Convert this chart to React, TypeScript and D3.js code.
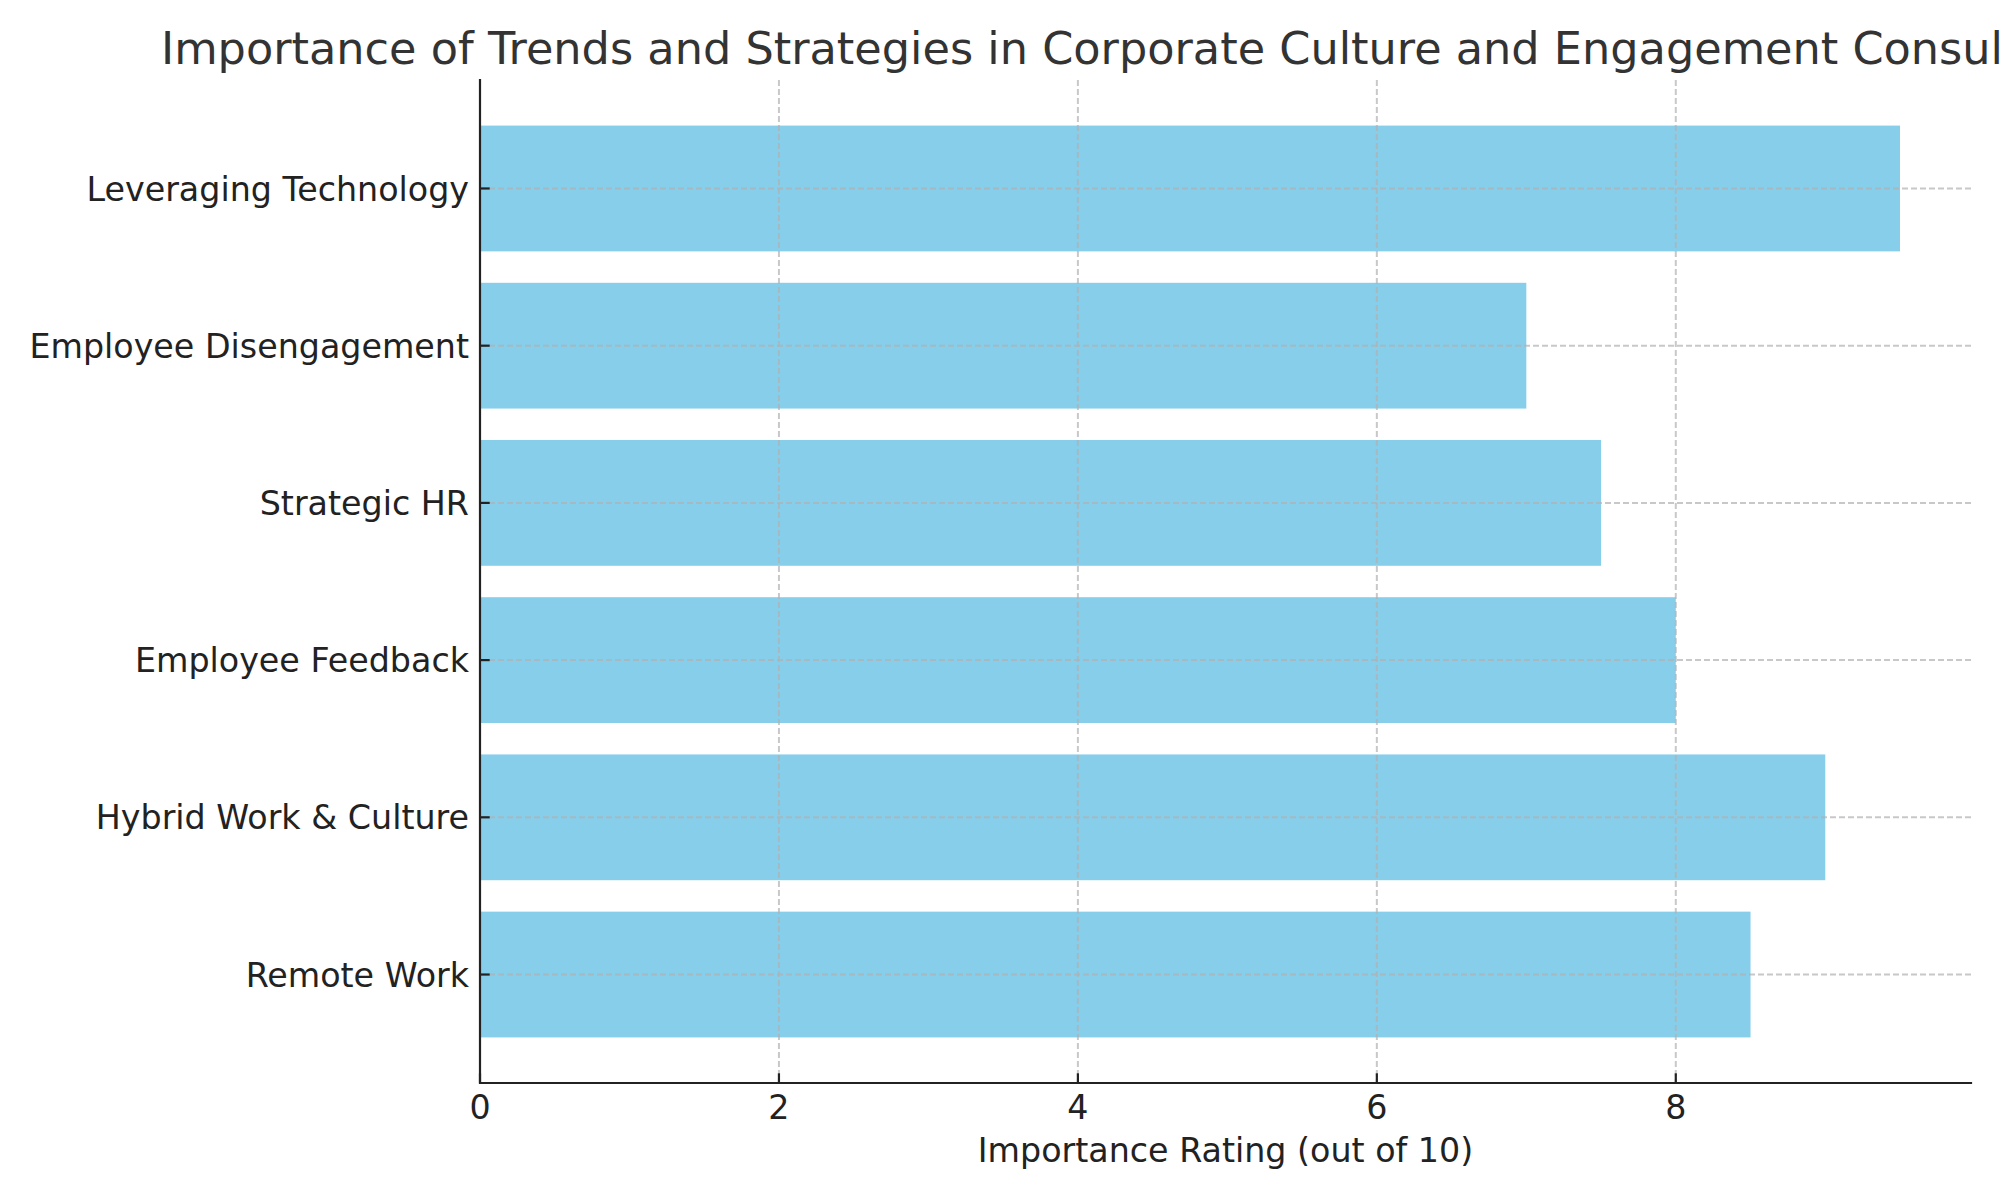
import React, { useRef, useEffect } from "react";
import * as d3 from "d3";

// data, bottom to top as plotted
const categories = [
  "Remote Work",
  "Hybrid Work & Culture",
  "Employee Feedback",
  "Strategic HR",
  "Employee Disengagement",
  "Leveraging Technology",
];
const ratings = [8.5, 9, 8, 7.5, 7, 9.5];
const xTicks = [0, 2, 4, 6, 8];

const title =
  "Importance of Trends and Strategies in Corporate Culture and Engagement Consulting";
const xLabel = "Importance Rating (out of 10)";

const W = 2000;
const H = 1200;
const FONT = "'DejaVu Sans', sans-serif";

const App: React.FC = () => {
  const svgRef = useRef<SVGSVGElement>(null);

  useEffect(() => {
    if (!svgRef.current) return;
    const svg = d3.select(svgRef.current);
    svg.selectAll("*").remove();

    // axes box in pixels
    const left = 480;
    const right = 1971;
    const top = 80;
    const bottom = 1083;

    const xMax = d3.max(ratings)! * 1.05;
    const x = d3.scaleLinear().domain([0, xMax]).range([left, right]);

    // top row is the last category
    const y = d3
      .scaleBand<string>()
      .domain(categories.slice().reverse())
      .range([top, bottom])
      .paddingInner(0.2)
      .paddingOuter(0.29);

    const yMid = (d: string) => y(d)! + y.bandwidth() / 2;

    svg.append("rect").attr("width", W).attr("height", H).attr("fill", "white");

    // bars
    svg
      .append("g")
      .selectAll("rect")
      .data(categories)
      .join("rect")
      .attr("x", x(0))
      .attr("y", (d) => y(d)!)
      .attr("width", (_, i) => x(ratings[i]) - x(0))
      .attr("height", y.bandwidth())
      .attr("fill", "#87CEEB");

    // grid (drawn over bars)
    const grid = svg
      .append("g")
      .attr("stroke", "#b0b0b0")
      .attr("stroke-opacity", 0.7)
      .attr("stroke-width", 2)
      .attr("stroke-dasharray", "6,3");

    grid
      .selectAll("line.vx")
      .data(xTicks)
      .join("line")
      .attr("class", "vx")
      .attr("x1", (d) => x(d))
      .attr("x2", (d) => x(d))
      .attr("y1", top)
      .attr("y2", bottom);

    grid
      .selectAll("line.hy")
      .data(categories)
      .join("line")
      .attr("class", "hy")
      .attr("x1", left)
      .attr("x2", right)
      .attr("y1", yMid)
      .attr("y2", yMid);

    // ticks, pointing inward
    const ticks = svg.append("g").attr("stroke", "#222").attr("stroke-width", 2.2);
    ticks
      .selectAll("line.tx")
      .data(xTicks)
      .join("line")
      .attr("class", "tx")
      .attr("x1", (d) => x(d))
      .attr("x2", (d) => x(d))
      .attr("y1", bottom)
      .attr("y2", bottom - 9.7);
    ticks
      .selectAll("line.ty")
      .data(categories)
      .join("line")
      .attr("class", "ty")
      .attr("x1", left)
      .attr("x2", left + 9.7)
      .attr("y1", yMid)
      .attr("y2", yMid);

    // spines (left + bottom only)
    svg
      .append("path")
      .attr("d", `M${left},${top}V${bottom}H${right}`)
      .attr("fill", "none")
      .attr("stroke", "#222")
      .attr("stroke-width", 2.2)
      .attr("stroke-linecap", "square");

    // tick labels
    svg
      .append("g")
      .selectAll("text")
      .data(xTicks)
      .join("text")
      .attr("x", (d) => x(d))
      .attr("y", 1119)
      .attr("text-anchor", "middle")
      .style("font-family", FONT)
      .style("font-size", "33.3px")
      .attr("fill", "#222")
      .text((d) => d3.format("d")(d));

    svg
      .append("g")
      .selectAll("text")
      .data(categories)
      .join("text")
      .attr("x", left - 11)
      .attr("y", (d) => yMid(d) + 12.1)
      .attr("text-anchor", "end")
      .style("font-family", FONT)
      .style("font-size", "33.3px")
      .attr("fill", "#222")
      .text((d) => d);

    // axis label
    svg
      .append("text")
      .attr("x", (left + right) / 2)
      .attr("y", 1161.5)
      .attr("text-anchor", "middle")
      .style("font-family", FONT)
      .style("font-size", "33.3px")
      .attr("fill", "#222")
      .text(xLabel);

    // title, runs off the right edge as in the original
    svg
      .append("text")
      .attr("x", 161)
      .attr("y", 64)
      .attr("text-anchor", "start")
      .style("font-family", FONT)
      .style("font-size", "44.6px")
      .attr("fill", "#333")
      .text(title);
  }, []);

  return (
    <svg
      ref={svgRef}
      width={W}
      height={H}
      viewBox={`0 0 ${W} ${H}`}
      style={{ position: "absolute", left: 0, top: 0, display: "block" }}
    />
  );
};

export default App;
